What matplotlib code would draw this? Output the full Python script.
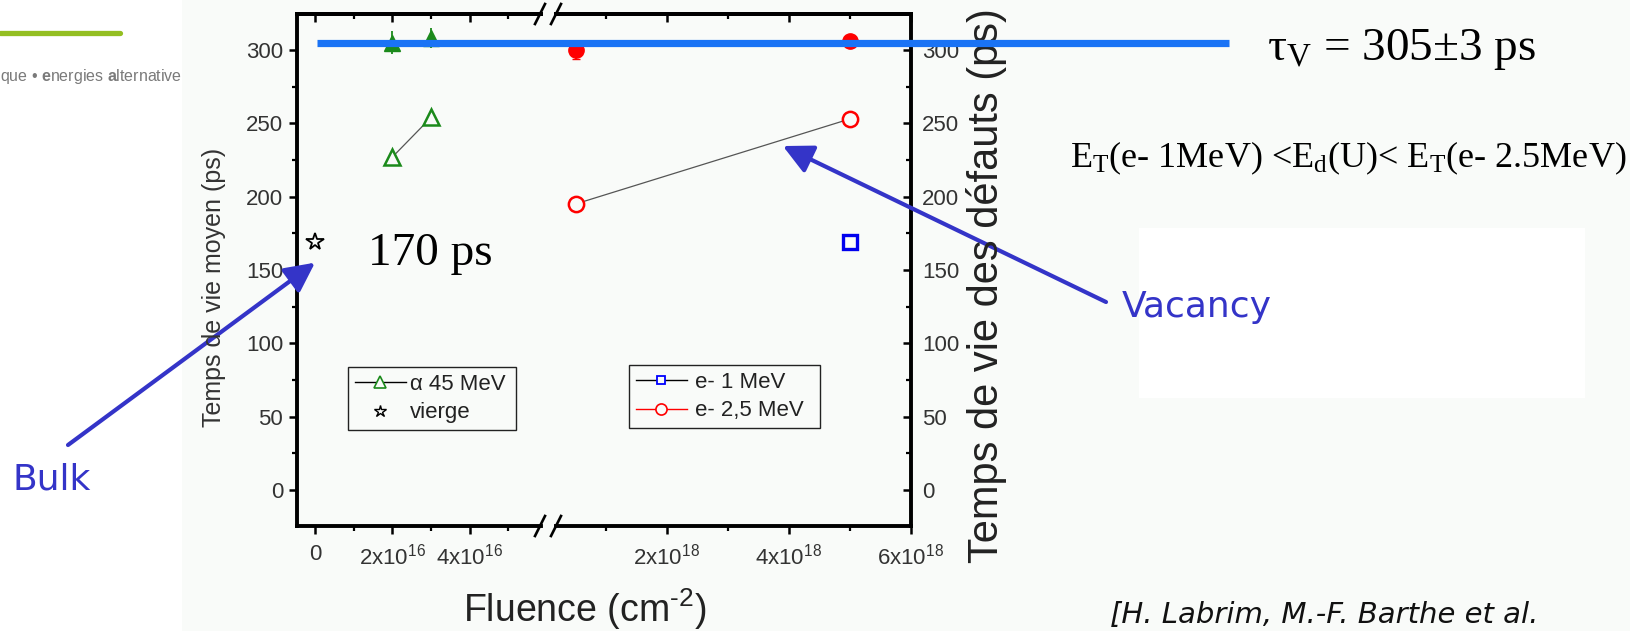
import matplotlib
matplotlib.use("Agg")
import matplotlib.pyplot as plt
import matplotlib.transforms as mtransforms
from matplotlib import font_manager
from matplotlib.lines import Line2D
from matplotlib.patches import Rectangle

# values (fluence in cm^-2, lifetimes in ps)
alpha_fluence = [2e16, 3e16]
alpha_mean = [227, 254]
alpha_defect = [305, 308]
alpha_defect_err = [8, 7]

virgin_fluence = [0]
virgin_mean = [169]

e25_fluence = [0.5e18, 5e18]
e25_mean = [195, 253]
e25_defect = [300, 306]
e25_defect_err = [6, 3]

e1_fluence = [5e18]
e1_mean = [169]

tau_v = 305

y_ticks = [0, 50, 100, 150, 200, 250, 300]
y_minor = [25, 75, 125, 175, 225, 275]
low_ticks = [0, 2e16, 4e16]
low_labels = ['0', '2x10$^{16}$', '4x10$^{16}$']
low_minor = [1e16, 3e16, 5e16]
high_ticks = [2e18, 4e18, 6e18]
high_labels = ['2x10$^{18}$', '4x10$^{18}$', '6x10$^{18}$']
high_minor = [1e18, 3e18, 5e18]

# colours
bg = '#f9fbf9'
green = '#1b8a1b'
arrow_blue = '#3434c8'
line_blue = '#1a73f5'
txt = '#333333'

installed = {f.name for f in font_manager.fontManager.ttflist}
sans = 'Liberation Sans' if 'Liberation Sans' in installed else 'DejaVu Sans'
serif = 'Liberation Serif' if 'Liberation Serif' in installed else 'DejaVu Serif'
plt.rcParams['font.family'] = [sans, 'DejaVu Sans']
plt.rcParams['mathtext.fontset'] = 'custom'
plt.rcParams['mathtext.rm'] = sans
plt.rcParams['mathtext.bf'] = sans + ':bold'
plt.rcParams['mathtext.default'] = 'regular'

W, H = 1630, 631


def fx(px):
    return px / W


def fy(py):
    return 1 - py / H


fig = plt.figure(figsize=(W / 100, H / 100), dpi=100, facecolor=bg)

# white slide strip on the left and white box on the right
fig.add_artist(Rectangle((0, 0), fx(182), 1, transform=fig.transFigure,
                         facecolor='white', edgecolor='none', zorder=-1))
fig.add_artist(Rectangle((fx(1139), fy(398)), fx(1585) - fx(1139), (398 - 228) / H,
                         transform=fig.transFigure, facecolor='white',
                         edgecolor='none', zorder=-1))

# logo remains top left
fig.add_artist(Line2D([0, fx(120)], [fy(33), fy(33)], transform=fig.transFigure,
                      color='#94bf22', lw=3.8, solid_capstyle='round'))
fig.text(0, fy(77), r'que • $\mathbf{e}$nergies $\mathbf{a}$lternative', fontsize=11.5,
         color='#7a7a7a', ha='left', va='center')

# broken x axis: two axes side by side
bottom, top = 526, 14
ax1 = fig.add_axes([fx(297), fy(bottom), fx(541) - fx(297), (bottom - top) / H])
ax2 = fig.add_axes([fx(556), fy(bottom), fx(911) - fx(556), (bottom - top) / H])

for ax in (ax1, ax2):
    ax.set_facecolor('none')
    ax.set_ylim(-24.5, 324.5)
    ax.set_yticks(y_ticks)
    ax.set_yticks(y_minor, minor=True)
    for s in ax.spines.values():
        s.set_linewidth(2.8)
    ax.tick_params(which='major', length=6, width=1.8, labelsize=16, labelcolor=txt)
    ax.tick_params(which='minor', length=3.5, width=1.6)
    ax.tick_params(axis='x', which='both', direction='out', pad=7)

ax1.spines['right'].set_visible(False)
ax2.spines['left'].set_visible(False)
ax1.tick_params(axis='y', which='both', direction='out', left=True, right=False, pad=4)
ax2.yaxis.tick_right()
ax2.tick_params(axis='y', which='both', direction='in', left=False, right=True,
                labelright=True, labelleft=False, pad=8)

ax1.set_xlim(-0.465e16, 5.84e16)
ax1.set_xticks(low_ticks, low_labels)
ax1.set_xticks(low_minor, minor=True)
ax2.set_xlim(0.18e18, 6.0e18)
ax2.set_xticks(high_ticks, high_labels)
ax2.set_xticks(high_minor, minor=True)

# inward ticks along the top
for ax, maj, mnr in ((ax1, low_ticks, low_minor), (ax2, high_ticks, high_minor)):
    sec = ax.secondary_xaxis('top')
    sec.set_xticks(maj)
    sec.set_xticks(mnr, minor=True)
    sec.tick_params(which='major', direction='in', length=6, width=1.8, labeltop=False)
    sec.tick_params(which='minor', direction='in', length=3.5, width=1.6)
    sec.spines['top'].set_linewidth(2.8)

# low fluence part: alpha irradiation + virgin sample
ax1.plot(alpha_fluence, alpha_mean, color='#555555', lw=0.9, zorder=2)
ax1.plot(alpha_fluence, alpha_mean, ls='none', marker='^', ms=12, mfc=bg, mec=green,
         mew=1.8, zorder=3)
ax1.errorbar(alpha_fluence, alpha_defect, yerr=alpha_defect_err, fmt='^', ms=12,
             color=green, ecolor=green, elinewidth=1.3, capsize=0, zorder=3)
ax1.plot(virgin_fluence, virgin_mean, ls='none', marker='*', ms=13, mfc=bg,
         mec='black', mew=1.3, zorder=3, clip_on=False)

# high fluence part: electron irradiation
ax2.plot(e25_fluence, e25_mean, color='#555555', lw=0.9, zorder=2)
ax2.plot(e25_fluence, e25_mean, ls='none', marker='o', ms=11, mfc=bg, mec='red',
         mew=1.8, zorder=3)
ax2.errorbar(e25_fluence, e25_defect, yerr=e25_defect_err, fmt='o', ms=11, color='red',
             ecolor='red', elinewidth=1.3, capsize=3, zorder=3)
ax2.plot(e1_fluence, e1_mean, ls='none', marker='s', ms=10, mfc=bg, mec='#0000ee',
         mew=2.4, zorder=3)

# break marks on the x axis
for xb in (540, 556):
    for yb in (top, bottom):
        fig.add_artist(Line2D([fx(xb - 5), fx(xb + 5)], [fy(yb + 10), fy(yb - 10)],
                              transform=fig.transFigure, color='black', lw=1.9))

# legends (boxes stretched to the width seen on the slide)
box_h = 0.05
h_alpha = Line2D([], [], color='black', lw=1.0, marker='^', ms=8, mfc=bg, mec=green, mew=1.2)
h_virgin = Line2D([], [], ls='none', marker='*', ms=9, mfc=bg, mec='black', mew=1.0)
leg1 = fig.legend([h_alpha, h_virgin], ['α 45 MeV', 'vierge'], loc='upper left',
                  bbox_to_anchor=(fx(348), fy(367) - box_h, fx(516) - fx(348), box_h),
                  mode='expand', fancybox=False, edgecolor='#222222', facecolor=bg,
                  framealpha=1, fontsize=16, handlelength=2.3, handletextpad=0.2,
                  borderpad=0.3, labelspacing=0.35, borderaxespad=0, labelcolor='#222222')
leg1.get_frame().set_linewidth(1.0)

h_e1 = Line2D([], [], color='black', lw=1.0, marker='s', ms=6, mfc=bg, mec='blue', mew=1.3)
h_e25 = Line2D([], [], color='red', lw=1.0, marker='o', ms=8, mfc=bg, mec='red', mew=1.2)
leg2 = fig.legend([h_e1, h_e25], ['e- 1 MeV', 'e- 2,5 MeV'], loc='upper left',
                  bbox_to_anchor=(fx(629), fy(365) - box_h, fx(820) - fx(629), box_h),
                  mode='expand', fancybox=False, edgecolor='#222222', facecolor=bg,
                  framealpha=1, fontsize=16, handlelength=2.3, handletextpad=0.35,
                  borderpad=0.3, labelspacing=0.35, borderaxespad=0, labelcolor='#222222')
leg2.get_frame().set_linewidth(1.0)

# axis titles
fig.text(fx(214), fy(287), 'Temps de vie moyen (ps)', rotation=90, ha='center',
         va='center', fontsize=18, color=txt)
fig.text(fx(987), fy(286), 'Temps de vie des défauts (ps)', rotation=90, ha='center',
         va='center', fontsize=30, color='#222222')
fig.text(fx(585), fy(622), r'Fluence (cm$^{\text{-2}}$)', ha='center', va='baseline',
         fontsize=27, color='#222222')

# vacancy lifetime line across the slide
blend = mtransforms.blended_transform_factory(fig.transFigure, ax1.transData)
fig.add_artist(Line2D([fx(317), fx(1229)], [tau_v, tau_v], transform=blend,
                      color=line_blue, lw=5.2, solid_capstyle='butt', zorder=10))

# slide annotations
fig.text(fx(368), fy(265), '170 ps', family=serif, fontsize=34, va='baseline')
fig.text(fx(1267), fy(60), 'τ$_{V}$ = 305±3 ps', family=serif, fontsize=34, va='baseline')
fig.text(fx(1070), fy(167), 'E$_{T}$(e- 1MeV) <E$_{d}$(U)< E$_{T}$(e- 2.5MeV)',
         family=serif, fontsize=26, va='baseline')
fig.text(fx(1122), fy(317), 'Vacancy', family='DejaVu Sans', fontsize=26,
         color=arrow_blue, va='baseline')
fig.text(fx(12), fy(490), 'Bulk', family='DejaVu Sans', fontsize=26,
         color=arrow_blue, va='baseline')
fig.text(fx(1110), fy(623), '[H. Labrim, M.-F. Barthe et al.', family='DejaVu Sans',
         style='italic', fontsize=21, color='#111111', va='baseline')

arrow = dict(arrowstyle='-|>,head_length=0.6,head_width=0.3', color=arrow_blue, lw=3,
             mutation_scale=30, shrinkA=0, shrinkB=0)
ax1.annotate('', xy=(0, 155), xycoords='data', xytext=(fx(68), fy(445)),
             textcoords='figure fraction', arrowprops=arrow, annotation_clip=False)
ax2.annotate('', xy=(3.9e18, 234.5), xycoords='data', xytext=(fx(1106), fy(302)),
             textcoords='figure fraction', arrowprops=arrow, annotation_clip=False)

fig.savefig('out.png', dpi=100, facecolor=fig.get_facecolor())
